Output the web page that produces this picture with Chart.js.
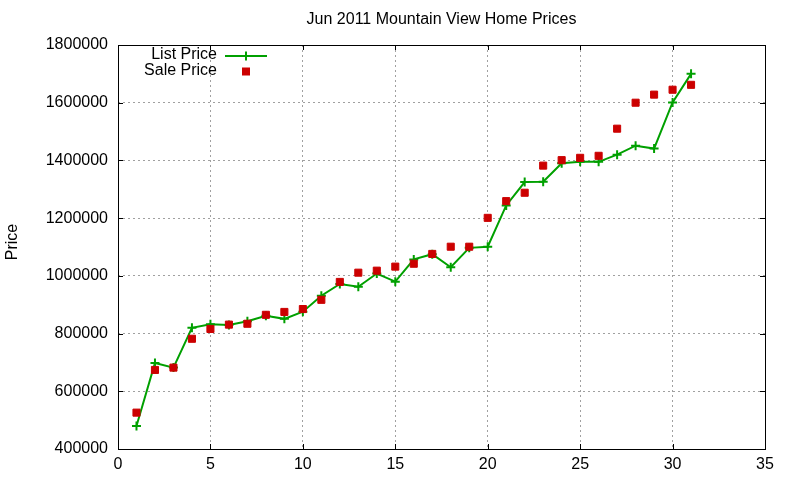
<!DOCTYPE html>
<html>
<head>
<meta charset="utf-8">
<script src="https://cdn.jsdelivr.net/npm/chart.js@4/dist/chart.umd.min.js"></script>
<style>
  html, body { margin: 0; padding: 0; background: #fff; }
  #wrap { width: 800px; height: 480px; position: relative; }
</style>
</head>
<body>
<div id="wrap"><canvas id="c" width="800" height="480"></canvas></div>
<script>
const chartTitle = 'Jun 2011 Mountain View Home Prices';
const yAxisTitle = 'Price';
const days = [1,2,3,4,5,6,7,8,9,10,11,12,13,14,15,16,17,18,19,20,21,22,23,24,25,26,27,28,29,30,31];
const listPrice = [480000,698000,682000,820000,832000,830000,843000,862000,851000,876000,931000,972000,962000,1008000,980000,1057000,1075000,1030000,1097000,1101000,1244000,1325000,1326000,1390000,1395000,1395000,1420000,1451000,1441000,1601000,1700000];
const salePrice = [526000,674000,682000,782000,816000,831000,834000,865000,875000,885000,917000,979000,1011000,1018000,1032000,1042000,1076000,1101000,1101000,1201000,1259000,1288000,1382000,1401000,1409000,1416000,1510000,1600000,1628000,1645000,1662000];
const seriesNames = ['List Price', 'Sale Price'];
const xTicks = [0,5,10,15,20,25,30,35];
const yTicks = [400000,600000,800000,1000000,1200000,1400000,1600000,1800000];

const GREEN = '#00a000';
const RED = '#cc0000';
const FONT = '"Liberation Sans", Arial, sans-serif';

const listData = days.map((d, i) => ({x: d, y: listPrice[i]}));
const saleData = days.map((d, i) => ({x: d, y: salePrice[i]}));

const decor = {
  id: 'decor',
  afterDatasetsDraw(chart) {
    const ctx = chart.ctx;
    const a = chart.chartArea;
    const xs = chart.scales.x, ys = chart.scales.y;
    ctx.save();
    // box
    ctx.strokeStyle = '#000';
    ctx.lineWidth = 1;
    ctx.strokeRect(Math.round(a.left) + 0.5, Math.round(a.top) + 0.5, Math.round(a.right - a.left), Math.round(a.bottom - a.top));
    // inner ticks
    ctx.beginPath();
    const tl = 5;
    xTicks.forEach(v => {
      const px = Math.round(xs.getPixelForValue(v)) + 0.5;
      ctx.moveTo(px, a.bottom); ctx.lineTo(px, a.bottom - tl);
      ctx.moveTo(px, a.top); ctx.lineTo(px, a.top + tl);
    });
    yTicks.forEach(v => {
      const py = Math.round(ys.getPixelForValue(v)) + 0.5;
      ctx.moveTo(a.left, py); ctx.lineTo(a.left + tl, py);
      ctx.moveTo(a.right, py); ctx.lineTo(a.right - tl, py);
    });
    ctx.stroke();
    // title
    ctx.fillStyle = '#000';
    ctx.font = '16px ' + FONT;
    ctx.textAlign = 'center';
    ctx.textBaseline = 'middle';
    ctx.fillText(chartTitle, (a.left + a.right) / 2, 20);
    // y title
    ctx.save();
    ctx.translate(13, 242);
    ctx.rotate(-Math.PI / 2);
    ctx.font = '16px ' + FONT;
    ctx.fillText(yAxisTitle, 0, 0);
    ctx.restore();
    // legend
    ctx.font = '16px ' + FONT;
    ctx.textAlign = 'right';
    ctx.fillText(seriesNames[0], 217, 55);
    ctx.fillText(seriesNames[1], 217, 71);
    ctx.strokeStyle = GREEN;
    ctx.lineWidth = 2;
    ctx.beginPath();
    ctx.moveTo(225, 56); ctx.lineTo(267, 56);
    ctx.moveTo(246, 51.5); ctx.lineTo(246, 60.5);
    ctx.stroke();
    ctx.fillStyle = RED;
    ctx.fillRect(242, 67.5, 8, 8);
    ctx.restore();
  }
};

new Chart(document.getElementById('c'), {
  type: 'scatter',
  data: {
    datasets: [
      {
        label: seriesNames[0],
        data: listData,
        showLine: true,
        borderColor: GREEN,
        backgroundColor: GREEN,
        borderWidth: 2,
        pointStyle: 'cross',
        pointRadius: 4.5,
        pointBorderWidth: 2,
        pointBorderColor: GREEN,
        tension: 0,
        order: 2
      },
      {
        label: seriesNames[1],
        data: saleData,
        showLine: false,
        borderColor: RED,
        backgroundColor: RED,
        pointStyle: 'rect',
        pointRadius: 5,
        pointBorderWidth: 1,
        order: 1
      }
    ]
  },
  options: {
    responsive: false,
    animation: false,
    events: [],
    layout: { padding: { top: 45, right: 35, left: 0, bottom: 0 } },
    plugins: { legend: { display: false }, tooltip: { enabled: false }, title: { display: false } },
    scales: {
      x: {
        type: 'linear',
        min: 0, max: 35,
        afterFit(s) { s.height = 31; },
        afterBuildTicks(s) { s.ticks = xTicks.map(v => ({value: v})); },
        ticks: { color: '#000', font: { family: FONT, size: 16 }, padding: 6, maxRotation: 0 },
        grid: { color: '#a0a0a0', lineWidth: 1, drawTicks: false },
        border: { display: false, dash: [2, 3] }
      },
      y: {
        type: 'linear',
        min: 400000, max: 1800000,
        afterFit(s) { s.width = 118; },
        afterBuildTicks(s) { s.ticks = yTicks.map(v => ({value: v})); },
        ticks: { color: '#000', font: { family: FONT, size: 16 }, padding: 10, callback: v => String(v) },
        grid: { color: '#a0a0a0', lineWidth: 1, drawTicks: false },
        border: { display: false, dash: [2, 3] }
      }
    }
  },
  plugins: [decor]
});
</script>
</body>
</html>
